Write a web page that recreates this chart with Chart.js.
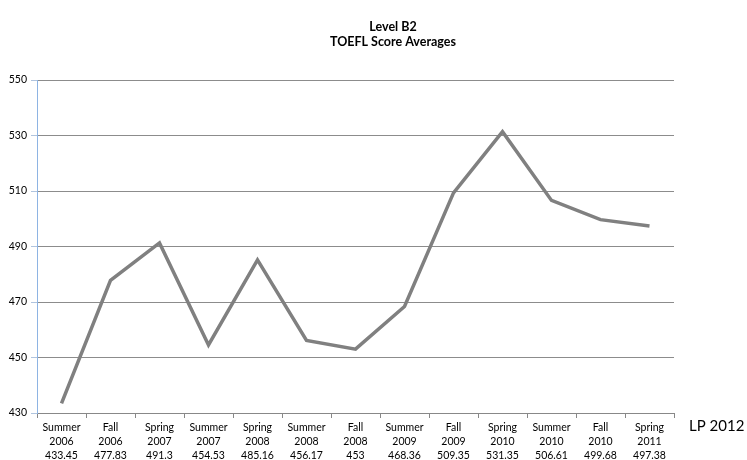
<!DOCTYPE html>
<html>
<head>
<meta charset="utf-8">
<script src="https://cdn.jsdelivr.net/npm/chart.js@4"></script>
<style>
  html, body { margin: 0; padding: 0; background: #fff; }
  #wrap { width: 747px; height: 460px; }
</style>
</head>
<body>
<div id="wrap"><canvas id="myChart" width="747" height="460"></canvas></div>
<script>
// datos
const temporadas = ["Summer", "Fall", "Spring", "Summer", "Spring", "Summer", "Fall",
  "Summer", "Fall", "Spring", "Summer", "Fall", "Spring"];
const anios = ["2006", "2006", "2007", "2007", "2008", "2008", "2008",
  "2009", "2009", "2010", "2010", "2010", "2011"];
const promedios = [433.45, 477.83, 491.3, 454.53, 485.16, 456.17, 453,
  468.36, 509.35, 531.35, 506.61, 499.68, 497.38];
const titulo = ["Level B2", "TOEFL Score Averages"];
const nota = "LP 2012";

const etiquetas = temporadas.map((t, i) => [t, anios[i], String(promedios[i])]);

// titulo y nota dibujados a mano
const textosExtra = {
  id: "textosExtra",
  afterDraw(chart) {
    const ctx = chart.ctx;
    ctx.save();
    ctx.fillStyle = "#000";
    ctx.textAlign = "center";
    ctx.textBaseline = "middle";
    ctx.font = "bold 12.5px Lato";
    ctx.fillText(titulo[0], 393, 27);
    ctx.fillText(titulo[1], 393, 42);
    ctx.textAlign = "left";
    ctx.font = "15px Lato";
    ctx.fillText(nota, 689, 426);
    ctx.restore();
  },
};

const config = {
  type: "line",
  data: {
    labels: etiquetas,
    datasets: [
      {
        data: promedios,
        borderColor: "#808080",
        borderWidth: 3.5,
        pointRadius: 0,
        tension: 0,
        fill: false,
      },
    ],
  },
  options: {
    responsive: false,
    animation: false,
    layout: { padding: { top: 80, right: 73, left: 0, bottom: 0 } },
    plugins: { legend: { display: false }, title: { display: false }, tooltip: { enabled: false } },
    scales: {
      x: {
        offset: true,
        grid: { offset: true, drawOnChartArea: false, drawTicks: true, tickLength: 5, color: "#888" },
        border: { color: "#888" },
        ticks: { color: "#000", font: { family: "Lato", size: 10.5, lineHeight: 1.3 }, maxRotation: 0, autoSkip: false, padding: 3 },
        afterFit(scale) { scale.height = 47; },
      },
      y: {
        min: 430,
        max: 550,
        grid: { color: "#8c8c8c", tickLength: 6, tickColor: "#b0c4de" },
        border: { color: "#8EB4E3" },
        ticks: { stepSize: 20, color: "#000", font: { family: "Lato", size: 10.5 }, padding: 4 },
        afterFit(scale) { scale.width = 37; },
      },
    },
  },
  plugins: [textosExtra],
};

new Chart(document.getElementById("myChart"), config);
</script>
</body>
</html>
